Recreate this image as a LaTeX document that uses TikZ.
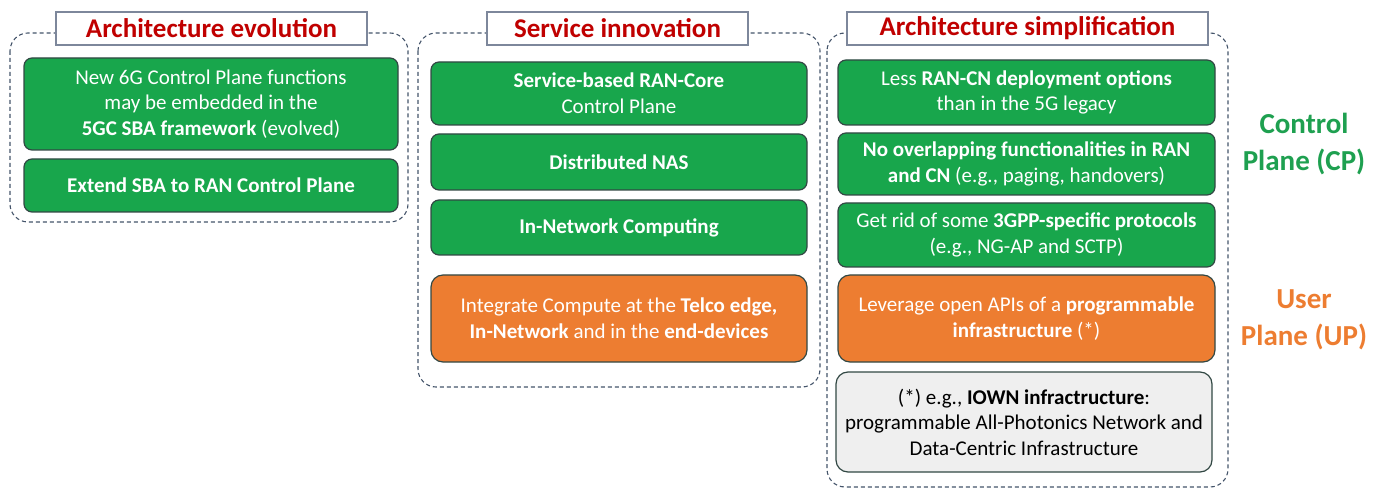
\documentclass[tikz,border=0pt]{standalone}
\usepackage{fontspec}
\setmainfont{Carlito}
\definecolor{gfill}{RGB}{24,166,76}
\definecolor{ofill}{RGB}{237,125,49}
\definecolor{bord}{RGB}{50,72,68}
\definecolor{dashc}{RGB}{68,84,106}
\definecolor{tred}{RGB}{192,0,0}
\definecolor{tbord}{RGB}{125,135,155}
\definecolor{cpgreen}{RGB}{30,160,80}
\definecolor{greyfill}{RGB}{239,239,239}
\tikzset{
  grp/.style={draw=dashc, line width=1.1pt, dash pattern=on 4pt off 3pt, rounded corners=18pt},
  boxbase/.style={draw=bord, line width=1.2pt, rounded corners=8pt, align=center, inner sep=0pt,
    font=\fontsize{21}{25.6}\selectfont},
  gbox/.style={boxbase, fill=gfill, text=white},
  obox/.style={boxbase, fill=ofill, text=white},
  greybox/.style={boxbase, fill=greyfill, text=black, rounded corners=12pt},
  ttl/.style={draw=tbord, fill=white, line width=1.2pt, inner sep=0pt, text=tred,
    font=\fontsize{27}{30}\selectfont\bfseries},
  side/.style={align=center, font=\fontsize{29}{37}\selectfont\bfseries},
}
\begin{document}
\begin{tikzpicture}[x=1pt,y=-1pt]
\useasboundingbox (0,0) rectangle (1377,489);
% dashed groups
\draw[grp] (10,33) rectangle (408,222);
\draw[grp] (418,33) rectangle (820,387);
\draw[grp] (827,33) rectangle (1228,487);
% titles
\node[ttl, minimum width=311pt, minimum height=33pt] (t1) at (211.5,28.5) {Architecture evolution};
\node[ttl, minimum width=261pt, minimum height=33pt] (t2) at (617.5,28.5) {Service innovation};
\node[ttl, minimum width=361pt, minimum height=33pt] (t3) at (1027.5,28.5) {Architecture simplification};
% group 1
\node[gbox, minimum width=374pt, minimum height=92pt] (e1) at (211,104) {New 6G Control Plane functions\\may be embedded in the\\\textbf{5GC SBA framework} (evolved)};
\node[gbox, minimum width=374pt, minimum height=53pt] (e2) at (211,185.5) {\textbf{Extend SBA to RAN Control Plane}};
% group 2
\node[gbox, minimum width=376pt, minimum height=63pt] (s1) at (619,93.5) {\textbf{Service-based RAN-Core}\\Control Plane};
\node[gbox, minimum width=376pt, minimum height=56pt] (s2) at (619,162) {\textbf{Distributed NAS}};
\node[gbox, minimum width=376pt, minimum height=55pt] (s3) at (619,227.5) {\textbf{In-Network Computing}};
\node[obox, minimum width=376pt, minimum height=87pt, rounded corners=12pt] (s4) at (619,318.5) {Integrate Compute at the \textbf{Telco edge,}\\\textbf{In-Network} and in the \textbf{end-devices}};
% group 3
\node[gbox, minimum width=377pt, minimum height=65pt] (a1) at (1026.5,92.5) {Less \textbf{RAN-CN deployment options}\\than in the 5G legacy};
\node[gbox, minimum width=377pt, minimum height=62pt] (a2) at (1026.5,164) {\textbf{No overlapping functionalities in RAN}\\\textbf{and CN} (e.g., paging, handovers)};
\node[gbox, minimum width=377pt, minimum height=64pt] (a3) at (1026.5,235) {Get rid of some \textbf{3GPP-specific protocols}\\(e.g., NG-AP and SCTP)};
\node[obox, minimum width=377pt, minimum height=87pt, rounded corners=12pt] (a4) at (1026.5,318.5) {Leverage open APIs of a \textbf{programmable}\\\textbf{infrastructure} (*)};
\node[greybox, minimum width=376pt, minimum height=100pt] (a5) at (1024,422) {(*) e.g., \textbf{IOWN infractructure}:\\programmable All-Photonics Network and\\Data-Centric Infrastructure};
% side labels
\node[side, text=cpgreen] (cp) at (1304,144.5) {Control\\Plane (CP)};
\node[side, text=ofill] (up) at (1304,320) {User\\Plane (UP)};
\end{tikzpicture}
\end{document}
